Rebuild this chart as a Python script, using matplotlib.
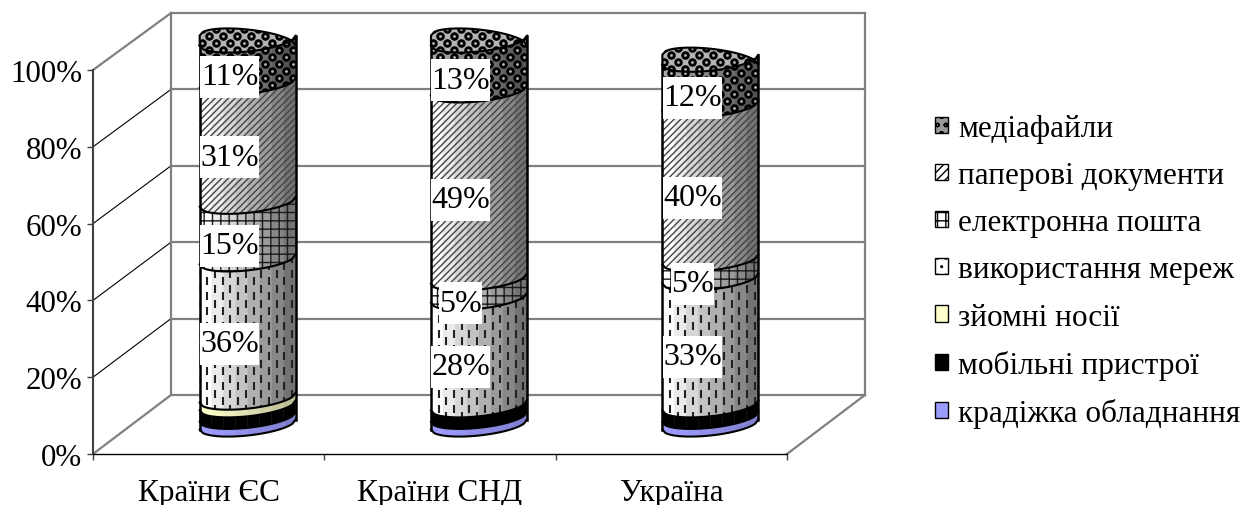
#!/usr/bin/env python3
"""Stacked pseudo-3D cylinders: leak channels by region."""
import numpy as np
import matplotlib; matplotlib.use("Agg")
import matplotlib.pyplot as plt
from matplotlib.collections import LineCollection
from matplotlib.patches import Patch, Polygon, Rectangle

plt.rcParams['font.family'] = ['Liberation Serif', 'DejaVu Serif']
plt.rcParams['hatch.linewidth'] = 1.0

categories = ["Країни ЄС", "Країни СНД", "Україна"]
series = ["крадіжка обладнання", "мобільні пристрої", "зйомні носії", "використання мереж",
          "електронна пошта", "паперові документи", "медіафайли"]
theft = [2, 2, 2]
mobile = [3, 3, 3]
removable = [2, 0, 0]
network = [36, 28, 33]
email = [15, 5, 5]
paper = [31, 49, 40]
media = [11, 13, 12]
values = [theft, mobile, removable, network, email, paper, media]
min_label = 5
yticks = [0, 20, 40, 60, 80, 100]
ytick_labels = ["0%", "20%", "40%", "60%", "80%", "100%"]

# strip colour, darkening to the right, and how strongly
base_col = ['#9c9cff', '#000000', '#ffffcc', '#ffffff', '#ffffff', '#ffffff', '#a8a8a8']
shade_amt = [.18, 0, .25, .55, .55, .55, .5]
hatches = [None, None, None, None, '++', '/////', None]

W, H = 1247, 506
X0, Y0, WPX = 93, 455, 694        # front plane corner and width, pixels
PX, PY = 3/WPX, 100/384           # data units per pixel
DX, DY = 78*PX, 59*PY             # depth
BACK = 382/384                    # back wall is a touch shorter
A, TILT, B = 48*PX, 5*PY, 11*PY   # cylinder ellipse
N_STRIP = 8
XMAX = 3.4
YMAX = Y0*PY
FS = 23

fig = plt.figure(figsize=(W/100, H/100), dpi=100)
ax = fig.add_axes([X0/W, 1-Y0/H, (XMAX/PX)/W, Y0/H])
ax.set_xlim(0, XMAX); ax.set_ylim(0, YMAX)
ax.patch.set_alpha(0)

GRAY = '#808080'
for v in yticks:
    yb = v*BACK + DY
    ax.plot([DX, 3+DX], [yb, yb], color=GRAY, lw=1.6, zorder=1)
    ax.plot([0, DX], [v, yb], color=GRAY if v in (0, 100) else 'k', lw=1.6 if v in (0, 100) else .8, zorder=1)
ax.plot([DX, DX], [DY, 100*BACK+DY], color=GRAY, lw=1.6, zorder=1)
ax.plot([3+DX, 3+DX], [DY, 100*BACK+DY], color=GRAY, lw=1.6, zorder=1)
ax.plot([3, 3+DX], [0, DY], color=GRAY, lw=1.6, zorder=1)

def arc(cx, cy, x0=-1, x1=1, n=30):
    # front half of the tilted ellipse, x0/x1 in -1..1 of the radius
    u = np.linspace(x0, x1, n)
    t = np.arccos(u)
    return cx + A*u, cy + TILT*np.cos(t) - B*np.sin(t)

def seg_poly(cx, lo, hi, x0=-1, x1=1):
    xa, ya = arc(cx, lo, x0, x1)
    xb, yb = arc(cx, hi, x0, x1)
    return np.r_[np.c_[xa, ya], np.c_[xb, yb][::-1]]

def dots(clip, cx, lo, hi, dx_px, dy_px, s, col, z):
    # staggered dot grid inside a clip patch
    xs, ys = [], []
    for r, yp in enumerate(np.arange(-30, (hi-lo)/PY+30, dy_px)):
        for xp in np.arange(-60, 60, dx_px):
            xs.append(cx + (xp + (r % 2)*dx_px/2)*PX); ys.append(lo + yp*PY)
    d = ax.scatter(xs, ys, s=s, c=col, lw=0, zorder=z)
    d.set_clip_path(clip)

def dashes(clip, cx, lo, hi, z):
    segs = []
    for c, xp in enumerate(np.arange(-48, 49, 7.7)):
        for yp in np.arange(-30 + (c % 2)*7.5, (hi-lo)/PY+30, 15):
            x = cx + xp*PX
            segs.append([(x, lo+yp*PY), (x, lo+(yp+8)*PY)])
    lc = LineCollection(segs, colors='#222222', linewidths=1.5, zorder=z)
    ax.add_collection(lc)
    lc.set_clip_path(clip)

def media_pattern(clip, cx, lo, hi, z):
    dots(clip, cx, lo, hi, 14, 7, 38, 'k', z)
    dots(clip, cx, lo, hi, 14, 7, 4, '#bbbbbb', z+.1)

edges = np.linspace(-1, 1, N_STRIP+1)
for i, vals in enumerate(zip(*values)):
    cx = i + .5 + DX/2
    y0 = DY/2
    cum = 0
    for j, v in enumerate(vals):
        if v == 0:
            continue
        lo, hi = y0+cum, y0+cum+v
        z = 3 + j
        for k in range(N_STRIP):
            sh = 1 - shade_amt[j]*k/(N_STRIP-1)
            col = np.array(matplotlib.colors.to_rgb(base_col[j]))*sh
            ax.add_patch(Polygon(seg_poly(cx, lo, hi, edges[k], edges[k+1]), fc=col, ec=col, lw=.3, zorder=z))
        clip = Polygon(seg_poly(cx, lo, hi), fc='none', ec='none', zorder=z+.2, hatch=hatches[j])
        if hatches[j]:
            clip.set_edgecolor('#1a1a1a' if hatches[j] == '++' else '#444444')
            clip.set_linewidth(0)
        ax.add_patch(clip)
        if series[j] == "використання мереж":
            dashes(clip, cx, lo, hi, z+.3)
        elif series[j] == "мобільні пристрої":
            dots(clip, cx, lo-8*PY, hi, 15.4, 200, 3, '#999999', z+.3)
        elif series[j] == "медіафайли":
            media_pattern(clip, cx, lo, hi, z+.3)
        ax.plot(*arc(cx, lo), color='k', lw=1.5, zorder=z+.5)
        cum += v
    top = y0 + cum
    # top cap
    xf, yf = arc(cx, top)
    xb, yb = xf[::-1], 2*top - yf[::-1]
    cap = Polygon(np.r_[np.c_[xf, yf], np.c_[xb, yb]], fc='#b4b4b4', ec='none', zorder=12)
    ax.add_patch(cap)
    media_pattern(cap, cx, top-14*PY, top+14*PY, 12.3)
    ax.plot(np.r_[xf, xb, xf[0]], np.r_[yf, yb, yf[0]], color='k', lw=1.5, zorder=13)
    ax.plot([cx-A, cx-A], [y0-TILT, top-TILT], color='k', lw=1.8, zorder=13)
    ax.plot([cx+A, cx+A], [y0+TILT, top+TILT], color='k', lw=1.8, zorder=13)
    # labels sit on the front of the cylinder, shifted left
    cum = 0
    for j, v in enumerate(vals):
        if v >= min_label:
            lx, ly = cx - 18*PX, y0 + cum + v/2 - 15*PY
            txt = f"{v}%"
            bw = 43 if len(txt) == 2 else 59
            ax.add_patch(Rectangle((lx-bw/2*PX, ly-21*PY), bw*PX, 42*PY, fc='white', ec='none', zorder=19))
            ax.text(lx, ly, txt, fontsize=FS, ha='center', va='center', zorder=20)
        cum += v

for s in ('top', 'right'):
    ax.spines[s].set_visible(False)
ax.spines['left'].set_bounds(0, 100)
ax.spines['left'].set_color('#404040'); ax.spines['left'].set_linewidth(1.5)
ax.spines['bottom'].set_bounds(0, 3)
ax.spines['bottom'].set_color('k'); ax.spines['bottom'].set_linewidth(1)
ax.set_yticks(yticks, ytick_labels)
ax.tick_params(axis='y', labelsize=22.3, length=4, width=1, color='#404040', pad=4)
ax.set_xticks([0, 1, 2, 3], ['']*4)
ax.tick_params(axis='x', length=4, width=1, color='#404040')
ax.set_xticks([.5, 1.5, 2.5], categories, minor=True)
ax.tick_params(axis='x', which='minor', length=0, labelsize=22.5, pad=17)

handles = []
for j in range(len(series)):
    handles.append(Patch(fc=base_col[j] if j != 6 else '#999999', ec='k', lw=1,
                         hatch={3: '..', 4: '++', 5: '////', 6: 'oo', 1: '.'}.get(j)))
leg = fig.legend(handles[::-1], series[::-1], loc='center left', bbox_to_anchor=(935/W, 1-272/H), frameon=False,
                 fontsize=22.5, labelspacing=.58, handlelength=.42, handleheight=.42, handletextpad=.32, borderpad=0, borderaxespad=0)

fig.savefig("out.png", dpi=100)
